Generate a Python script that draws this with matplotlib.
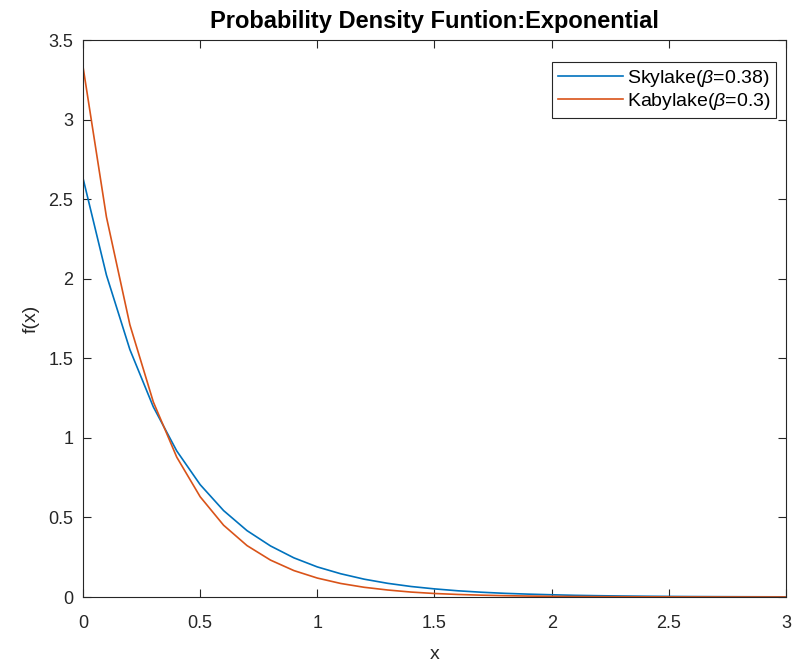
from matplotlib import pyplot as plt
import numpy as np

x = [round(0.1 * i, 1) for i in range(31)]
skylake = [2.632, 2.023, 1.555, 1.195, 0.918, 0.706, 0.543, 0.417, 0.321, 0.246,
           0.189, 0.146, 0.112, 0.086, 0.066, 0.051, 0.039, 0.030, 0.023, 0.018,
           0.014, 0.0105, 0.0081, 0.0062, 0.0048, 0.0037, 0.0028, 0.0022, 0.0017,
           0.0013, 0.0010]
kabylake = [3.333, 2.388, 1.711, 1.226, 0.879, 0.630, 0.451, 0.323, 0.232, 0.166,
            0.119, 0.085, 0.061, 0.044, 0.031, 0.022, 0.016, 0.0115, 0.0083, 0.0059,
            0.0042, 0.0030, 0.0022, 0.0016, 0.0011, 0.0008, 0.0006, 0.0004, 0.0003,
            0.0002, 0.00015]
labels = [r'Skylake($\beta$=0.38)', r'Kabylake($\beta$=0.3)']
xticks = [0, 0.5, 1, 1.5, 2, 2.5, 3]
yticks = [0, 0.5, 1, 1.5, 2, 2.5, 3, 3.5]

plt.rcParams['font.family'] = ['Liberation Sans', 'DejaVu Sans']
plt.rcParams['mathtext.fontset'] = 'custom'
plt.rcParams['mathtext.it'] = 'Liberation Sans:italic'
plt.rcParams['mathtext.rm'] = 'Liberation Sans'

def main():
    fig = plt.figure(figsize=(7.92, 6.66), dpi=100)
    ax = fig.add_axes([0.1048, 0.1036, 0.8876, 0.8363])

    ax.plot(x, skylake, color='#0072BD', lw=1.2, label=labels[0])
    ax.plot(x, kabylake, color='#D95319', lw=1.2, label=labels[1])

    ax.set_xlim(0, 3)
    ax.set_ylim(0, 3.5)
    ax.set_xticks(xticks)
    ax.set_xticklabels(['0', '0.5', '1', '1.5', '2', '2.5', '3'])
    ax.set_yticks(yticks)
    ax.set_yticklabels(['0', '0.5', '1', '1.5', '2', '2.5', '3', '3.5'])
    ax.tick_params(direction='in', top=True, right=True, length=6, width=0.8,
                   labelsize=13, colors='#262626', pad=7)
    ax.tick_params(axis='x', pad=13)
    for s in ax.spines.values():
        s.set_linewidth(0.8)
        s.set_color('#262626')

    ax.set_title('Probability Density Funtion:Exponential', fontsize=17,
                 fontweight='bold', color='black', pad=9)
    ax.set_xlabel('x', fontsize=14, color='#262626', labelpad=10)
    ax.set_ylabel('f(x)', fontsize=14, color='#262626', labelpad=6)

    leg = ax.legend(loc='upper right', bbox_to_anchor=(0.986, 0.9605),
                    borderaxespad=0, fontsize=14, fancybox=False, framealpha=1,
                    edgecolor='#262626', handlelength=3.35,
                    handletextpad=0.2, borderpad=0.3, labelspacing=0.12)
    leg.get_frame().set_linewidth(0.8)

    fig.savefig('out.png', dpi=100)

if __name__ == '__main__':
    main()
